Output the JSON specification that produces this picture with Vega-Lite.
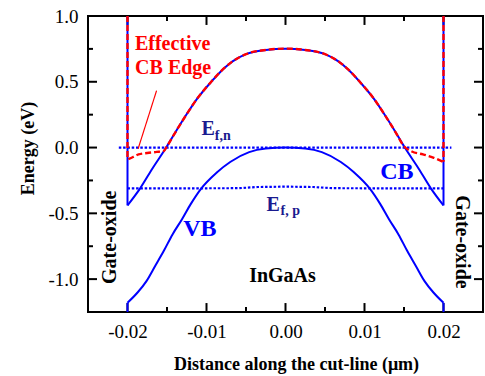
{
  "$schema": "https://vega.github.io/schema/vega-lite/v6.json",
  "autosize": "none",
  "width": 395,
  "height": 296,
  "padding": {"left": 88, "top": 16, "right": 2, "bottom": 64},
  "background": "white",
  "config": {
    "font": "Liberation Serif, Times New Roman, DejaVu Serif, serif",
    "view": {"stroke": "black", "strokeWidth": 2},
    "axis": {"grid": false, "domain": false, "ticks": false, "labelFont": "Liberation Serif, Times New Roman, DejaVu Serif, serif", "labelFontSize": 19, "labelColor": "black", "titleFont": "Liberation Serif, Times New Roman, DejaVu Serif, serif", "titleFontSize": 18, "titleFontWeight": "bold", "titleColor": "black"},
    "text": {"font": "Liberation Serif, Times New Roman, DejaVu Serif, serif"}
  },
  "datasets": {
    "cb": [
      {"x": -0.0200, "y": -0.44}, {"x": -0.0184, "y": -0.31}, {"x": -0.0168, "y": -0.155}, {"x": -0.0151, "y": 0.0},
      {"x": -0.0139, "y": 0.12}, {"x": -0.0126, "y": 0.245}, {"x": -0.0112, "y": 0.37}, {"x": -0.0094, "y": 0.50},
      {"x": -0.0080, "y": 0.59}, {"x": -0.0067, "y": 0.655}, {"x": -0.0050, "y": 0.71}, {"x": -0.0025, "y": 0.742},
      {"x": 0.0, "y": 0.752},
      {"x": 0.0025, "y": 0.742}, {"x": 0.0050, "y": 0.71}, {"x": 0.0067, "y": 0.655}, {"x": 0.0080, "y": 0.59},
      {"x": 0.0094, "y": 0.50}, {"x": 0.0112, "y": 0.37}, {"x": 0.0126, "y": 0.245}, {"x": 0.0139, "y": 0.12},
      {"x": 0.0151, "y": 0.0}, {"x": 0.0168, "y": -0.155}, {"x": 0.0184, "y": -0.31}, {"x": 0.0200, "y": -0.44}
    ],
    "vb": [
      {"x": -0.0200, "y": -1.18}, {"x": -0.0187, "y": -1.10}, {"x": -0.0176, "y": -1.015}, {"x": -0.0165, "y": -0.90},
      {"x": -0.0154, "y": -0.785}, {"x": -0.0143, "y": -0.66}, {"x": -0.0131, "y": -0.545}, {"x": -0.0120, "y": -0.43},
      {"x": -0.0107, "y": -0.314}, {"x": -0.0087, "y": -0.19}, {"x": -0.0070, "y": -0.11}, {"x": -0.0046, "y": -0.035},
      {"x": -0.0025, "y": -0.008}, {"x": 0.0, "y": 0.0}, {"x": 0.0025, "y": -0.008}, {"x": 0.0046, "y": -0.035},
      {"x": 0.0070, "y": -0.11}, {"x": 0.0087, "y": -0.19}, {"x": 0.0107, "y": -0.314}, {"x": 0.0120, "y": -0.43},
      {"x": 0.0131, "y": -0.545}, {"x": 0.0143, "y": -0.66}, {"x": 0.0154, "y": -0.785}, {"x": 0.0165, "y": -0.90},
      {"x": 0.0176, "y": -1.015}, {"x": 0.0187, "y": -1.10}, {"x": 0.0200, "y": -1.18}
    ],
    "eff": [
      {"x": -0.0199, "y": -0.088}, {"x": -0.0193, "y": -0.072}, {"x": -0.0186, "y": -0.052}, {"x": -0.0175, "y": -0.041},
      {"x": -0.0163, "y": -0.033}, {"x": -0.0154, "y": -0.026}, {"x": -0.0150, "y": 0.01},
      {"x": -0.0139, "y": 0.12}, {"x": -0.0126, "y": 0.245}, {"x": -0.0112, "y": 0.37}, {"x": -0.0094, "y": 0.50},
      {"x": -0.0080, "y": 0.59}, {"x": -0.0067, "y": 0.655}, {"x": -0.0050, "y": 0.71}, {"x": -0.0025, "y": 0.742},
      {"x": 0.0, "y": 0.752},
      {"x": 0.0025, "y": 0.742}, {"x": 0.0050, "y": 0.71}, {"x": 0.0067, "y": 0.655}, {"x": 0.0080, "y": 0.59},
      {"x": 0.0094, "y": 0.50}, {"x": 0.0112, "y": 0.37}, {"x": 0.0126, "y": 0.245}, {"x": 0.0139, "y": 0.12},
      {"x": 0.0150, "y": 0.01}, {"x": 0.0160, "y": -0.03}, {"x": 0.0174, "y": -0.052}, {"x": 0.0187, "y": -0.076},
      {"x": 0.0199, "y": -0.107}
    ],
    "ef": [
      {"s": "n", "x": -0.0211, "y": 0.0}, {"s": "n", "x": 0.0210, "y": 0.0},
      {"s": "p", "x": -0.0200, "y": -0.311}, {"s": "p", "x": -0.0060, "y": -0.309}, {"s": "p", "x": -0.0035, "y": -0.300},
      {"s": "p", "x": 0.0, "y": -0.297}, {"s": "p", "x": 0.0035, "y": -0.300}, {"s": "p", "x": 0.0060, "y": -0.309},
      {"s": "p", "x": 0.0200, "y": -0.311}
    ],
    "vblue": [
      {"x": -0.02, "y": 1.0, "y2": -0.44}, {"x": 0.02, "y": 1.0, "y2": -0.44},
      {"x": -0.02, "y": -1.25, "y2": -1.18}, {"x": 0.02, "y": -1.25, "y2": -1.18}
    ],
    "vred": [
      {"x": -0.02, "y": 1.0, "y2": -0.088}, {"x": 0.02, "y": 1.0, "y2": -0.107}
    ],
    "pointer": [
      {"x": -0.01632, "y": 0.433, "x2": -0.01866, "y2": -0.01}
    ],
    "xt": [
      {"v": -0.02, "k": "M"}, {"v": -0.015, "k": "m"}, {"v": -0.01, "k": "M"}, {"v": -0.005, "k": "m"}, {"v": 0.0, "k": "M"},
      {"v": 0.005, "k": "m"}, {"v": 0.01, "k": "M"}, {"v": 0.015, "k": "m"}, {"v": 0.02, "k": "M"}
    ],
    "yt": [
      {"v": -1.0, "k": "M"}, {"v": -0.75, "k": "m"}, {"v": -0.5, "k": "M"}, {"v": -0.25, "k": "m"}, {"v": 0.0, "k": "M"},
      {"v": 0.25, "k": "m"}, {"v": 0.5, "k": "M"}, {"v": 0.75, "k": "m"}
    ],
    "labels": [
      {"g": "red", "t": "Effective", "x": -0.01428, "y": 0.743},
      {"g": "red", "t": "CB Edge", "x": -0.01422, "y": 0.56},
      {"g": "efE", "t": "E", "x": -0.01063, "y": 0.097},
      {"g": "efsub", "t": "f,n", "x": -0.00894, "y": 0.061},
      {"g": "efE", "t": "E", "x": -0.00241, "y": -0.483},
      {"g": "efsub", "t": "f, p", "x": -0.00063, "y": -0.51},
      {"g": "band", "t": "CB", "x": 0.01409, "y": -0.238},
      {"g": "band", "t": "VB", "x": -0.01084, "y": -0.669},
      {"g": "black", "t": "InGaAs", "x": -0.00038, "y": -1.024},
      {"g": "oxL", "t": "Gate-oxide", "x": -0.02142, "y": -0.682},
      {"g": "oxR", "t": "Gate-oxide", "x": 0.02155, "y": -0.718}
    ]
  },
  "layer": [
    {
      "data": {"name": "cb"},
      "mark": {"type": "line", "color": "#0000ff", "strokeWidth": 2, "interpolate": "monotone", "clip": true},
      "encoding": {
        "x": {"field": "x", "type": "quantitative", "scale": {"domain": [-0.025, 0.025], "nice": false, "zero": false},
          "axis": {"orient": "bottom", "title": "Distance along the cut-line (\u03bcm)", "titlePadding": 14, "titleX": 208,
            "values": [-0.02, -0.01, 0, 0.01, 0.02], "labelPadding": 10, "labelFlush": false, "labelOverlap": false,
            "labelExpr": "replace(format(datum.value, '.2f'), '\u2212', '-')"}},
        "y": {"field": "y", "type": "quantitative", "scale": {"domain": [-1.25, 1.0], "nice": false, "zero": false},
          "axis": {"orient": "left", "title": "Energy (eV)", "titlePadding": 10, "titleY": 132,
            "values": [-1.0, -0.5, 0, 0.5, 1.0], "labelPadding": 10, "labelFlush": false, "labelOverlap": false,
            "labelExpr": "replace(format(datum.value, '.1f'), '\u2212', '-')"}}
      }
    },
    {
      "data": {"name": "xt"},
      "transform": [{"filter": "datum.k == 'M'"}],
      "mark": {"type": "rule", "color": "#000000", "strokeWidth": 2},
      "encoding": {
        "x": {"field": "v", "type": "quantitative"},
        "y": {"datum": -1.25, "type": "quantitative"},
        "y2": {"datum": -1.182}
      }
    },
    {
      "data": {"name": "xt"},
      "transform": [{"filter": "datum.k == 'm'"}],
      "mark": {"type": "rule", "color": "#000000", "strokeWidth": 2},
      "encoding": {
        "x": {"field": "v", "type": "quantitative"},
        "y": {"datum": -1.25, "type": "quantitative"},
        "y2": {"datum": -1.212}
      }
    },
    {
      "data": {"name": "xt"},
      "transform": [{"filter": "datum.k == 'M'"}],
      "mark": {"type": "rule", "color": "#000000", "strokeWidth": 2},
      "encoding": {
        "x": {"field": "v", "type": "quantitative"},
        "y": {"datum": 1.0, "type": "quantitative"},
        "y2": {"datum": 0.932}
      }
    },
    {
      "data": {"name": "xt"},
      "transform": [{"filter": "datum.k == 'm'"}],
      "mark": {"type": "rule", "color": "#000000", "strokeWidth": 2},
      "encoding": {
        "x": {"field": "v", "type": "quantitative"},
        "y": {"datum": 1.0, "type": "quantitative"},
        "y2": {"datum": 0.962}
      }
    },
    {
      "data": {"name": "yt"},
      "transform": [{"filter": "datum.k == 'M'"}],
      "mark": {"type": "rule", "color": "#000000", "strokeWidth": 2},
      "encoding": {
        "y": {"field": "v", "type": "quantitative"},
        "x": {"datum": -0.025, "type": "quantitative"},
        "x2": {"datum": -0.02386}
      }
    },
    {
      "data": {"name": "yt"},
      "transform": [{"filter": "datum.k == 'm'"}],
      "mark": {"type": "rule", "color": "#000000", "strokeWidth": 2},
      "encoding": {
        "y": {"field": "v", "type": "quantitative"},
        "x": {"datum": -0.025, "type": "quantitative"},
        "x2": {"datum": -0.02437}
      }
    },
    {
      "data": {"name": "yt"},
      "transform": [{"filter": "datum.k == 'M'"}],
      "mark": {"type": "rule", "color": "#000000", "strokeWidth": 2},
      "encoding": {
        "y": {"field": "v", "type": "quantitative"},
        "x": {"datum": 0.025, "type": "quantitative"},
        "x2": {"datum": 0.02386}
      }
    },
    {
      "data": {"name": "yt"},
      "transform": [{"filter": "datum.k == 'm'"}],
      "mark": {"type": "rule", "color": "#000000", "strokeWidth": 2},
      "encoding": {
        "y": {"field": "v", "type": "quantitative"},
        "x": {"datum": 0.025, "type": "quantitative"},
        "x2": {"datum": 0.02437}
      }
    },
    {
      "data": {"name": "vb"},
      "mark": {"type": "line", "color": "#0000ff", "strokeWidth": 2, "interpolate": "monotone", "clip": true},
      "encoding": {
        "x": {"field": "x", "type": "quantitative"},
        "y": {"field": "y", "type": "quantitative"}
      }
    },
    {
      "data": {"name": "vblue"},
      "mark": {"type": "rule", "color": "#0000ff", "strokeWidth": 2, "clip": true},
      "encoding": {
        "x": {"field": "x", "type": "quantitative"},
        "y": {"field": "y", "type": "quantitative"},
        "y2": {"field": "y2"}
      }
    },
    {
      "data": {"name": "ef"},
      "mark": {"type": "line", "color": "#0000ff", "strokeWidth": 2.2, "strokeDash": [2.5, 1.8], "clip": true},
      "encoding": {
        "x": {"field": "x", "type": "quantitative"},
        "y": {"field": "y", "type": "quantitative"},
        "detail": {"field": "s"}
      }
    },
    {
      "data": {"name": "eff"},
      "mark": {"type": "line", "color": "#ff0000", "strokeWidth": 2.4, "strokeDash": [6, 3], "interpolate": "monotone", "clip": true},
      "encoding": {
        "x": {"field": "x", "type": "quantitative"},
        "y": {"field": "y", "type": "quantitative"}
      }
    },
    {
      "data": {"name": "vred"},
      "mark": {"type": "rule", "color": "#ff0000", "strokeWidth": 2.4, "strokeDash": [6, 3], "clip": true},
      "encoding": {
        "x": {"field": "x", "type": "quantitative"},
        "y": {"field": "y", "type": "quantitative"},
        "y2": {"field": "y2"}
      }
    },
    {
      "data": {"name": "pointer"},
      "mark": {"type": "rule", "color": "#ff0000", "strokeWidth": 1.2},
      "encoding": {
        "x": {"field": "x", "type": "quantitative"},
        "y": {"field": "y", "type": "quantitative"},
        "x2": {"field": "x2"},
        "y2": {"field": "y2"}
      }
    },
    {
      "data": {"name": "labels"},
      "transform": [{"filter": "datum.g == 'red'"}],
      "mark": {"type": "text", "color": "#ff0000", "fontWeight": "bold", "fontSize": 20, "align": "center", "baseline": "alphabetic"},
      "encoding": {
        "x": {"field": "x", "type": "quantitative"},
        "y": {"field": "y", "type": "quantitative"},
        "text": {"field": "t"}
      }
    },
    {
      "data": {"name": "labels"},
      "transform": [{"filter": "datum.g == 'efE'"}],
      "mark": {"type": "text", "color": "#1a1a8f", "fontWeight": "bold", "fontSize": 20, "align": "left", "baseline": "alphabetic"},
      "encoding": {
        "x": {"field": "x", "type": "quantitative"},
        "y": {"field": "y", "type": "quantitative"},
        "text": {"field": "t"}
      }
    },
    {
      "data": {"name": "labels"},
      "transform": [{"filter": "datum.g == 'efsub'"}],
      "mark": {"type": "text", "color": "#1a1a8f", "fontWeight": "bold", "fontSize": 14, "align": "left", "baseline": "alphabetic"},
      "encoding": {
        "x": {"field": "x", "type": "quantitative"},
        "y": {"field": "y", "type": "quantitative"},
        "text": {"field": "t"}
      }
    },
    {
      "data": {"name": "labels"},
      "transform": [{"filter": "datum.g == 'band'"}],
      "mark": {"type": "text", "color": "#0000ff", "fontWeight": "bold", "fontSize": 24, "align": "center", "baseline": "alphabetic"},
      "encoding": {
        "x": {"field": "x", "type": "quantitative"},
        "y": {"field": "y", "type": "quantitative"},
        "text": {"field": "t"}
      }
    },
    {
      "data": {"name": "labels"},
      "transform": [{"filter": "datum.g == 'black'"}],
      "mark": {"type": "text", "color": "black", "fontWeight": "bold", "fontSize": 20, "align": "center", "baseline": "alphabetic"},
      "encoding": {
        "x": {"field": "x", "type": "quantitative"},
        "y": {"field": "y", "type": "quantitative"},
        "text": {"field": "t"}
      }
    },
    {
      "data": {"name": "labels"},
      "transform": [{"filter": "datum.g == 'oxL'"}],
      "mark": {"type": "text", "color": "black", "fontWeight": "bold", "fontSize": 20, "align": "center", "baseline": "alphabetic", "angle": 270},
      "encoding": {
        "x": {"field": "x", "type": "quantitative"},
        "y": {"field": "y", "type": "quantitative"},
        "text": {"field": "t"}
      }
    },
    {
      "data": {"name": "labels"},
      "transform": [{"filter": "datum.g == 'oxR'"}],
      "mark": {"type": "text", "color": "black", "fontWeight": "bold", "fontSize": 20, "align": "center", "baseline": "alphabetic", "angle": 90},
      "encoding": {
        "x": {"field": "x", "type": "quantitative"},
        "y": {"field": "y", "type": "quantitative"},
        "text": {"field": "t"}
      }
    }
  ]
}
